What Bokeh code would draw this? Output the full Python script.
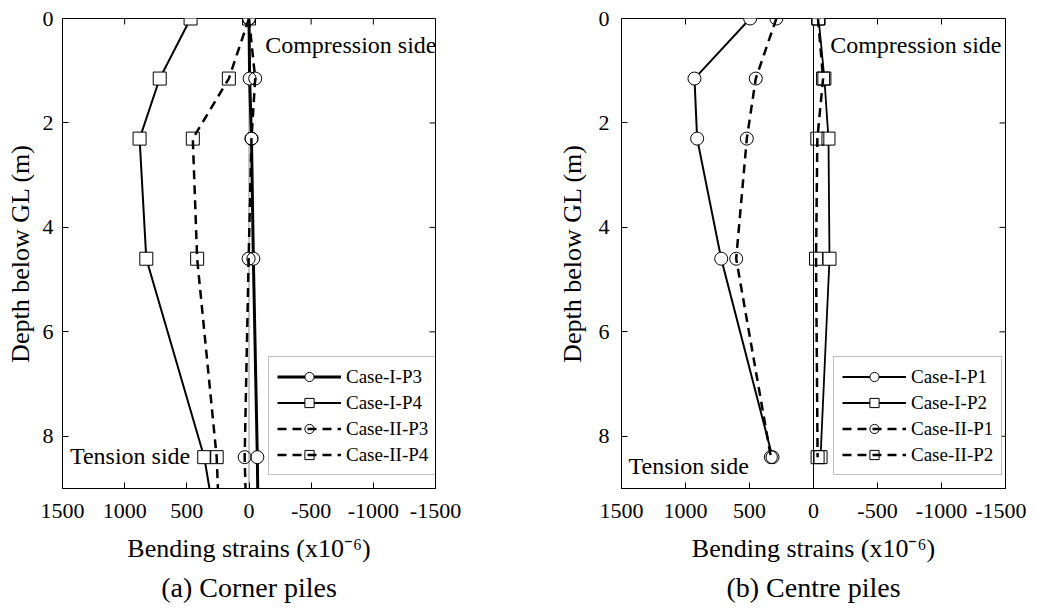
from bokeh.plotting import figure
from bokeh.models import Range1d, FixedTicker, Legend, LegendItem, Label, Span
from bokeh.layouts import row
from bokeh.embed import file_html
from bokeh.resources import INLINE

FONT = "Liberation Serif"

# ---------------- data ----------------
depth = [0, 1.15, 2.3, 4.6, 8.4]
depth_line_left = [0, 1.15, 2.3, 4.6, 8.4, 9.0]

# (a) Corner piles  -- bending strains (x10^-6)
corner_I_P3 = [0, -5, -20, -35, -67]
corner_I_P4 = [470, 718, 880, 826, 360]
corner_II_P3 = [0, -50, -20, 3, 35]
corner_II_P4 = [0, 162, 452, 417, 260]
# values of the fitted lines at the bottom of the pile (9 m)
corner_I_P3_bottom = -70
corner_I_P4_bottom = 318
corner_II_P3_bottom = 28
corner_II_P4_bottom = 250

# (b) Centre piles
centre_I_P1 = [495, 930, 909, 721, 320]
centre_I_P2 = [-40, -85, -117, -125, -55]
centre_II_P1 = [290, 451, 521, 604, 333]
centre_II_P2 = [-35, -75, -30, -20, -32]

x_ticks = [1500, 1000, 500, 0, -500, -1000, -1500]
x_tick_labels = ["1500", "1000", "500", "0", "-500", "-1000", "-1500"]
y_ticks = [0, 2, 4, 6, 8]
y_tick_labels = ["0", "2", "4", "6", "8"]

X_MIN, X_MAX = 1500, -1500
Y_TOP, Y_BOT = 0, 9
TICK_PX = 6
FRAME_H = 470
BORDER_TOP = 18


def style_axis(ax, ticks, labels):
    ax.ticker = FixedTicker(ticks=ticks)
    ax.major_label_overrides = {t: l for t, l in zip(ticks, labels)}
    ax.major_tick_in = TICK_PX
    ax.major_tick_out = 0
    ax.minor_tick_line_color = None
    ax.axis_line_color = "black"
    ax.axis_line_width = 1
    ax.major_tick_line_color = "black"
    ax.major_label_text_font = FONT
    ax.major_label_text_color = "black"
    ax.major_label_text_font_size = "22px"


def make_panel(caption, series, zero_color, frame_w, border_left, border_right,
               y_label_standoffs, legend_loc, comp_pos, tens_pos,
               line_depth=None, bottoms=None):
    p = figure(frame_width=frame_w, frame_height=FRAME_H,
               x_range=Range1d(X_MIN, X_MAX), y_range=Range1d(Y_BOT, Y_TOP),
               output_backend="svg", toolbar_location=None,
               title=caption, title_location="below",
               min_border_left=border_left, min_border_right=border_right,
               min_border_top=BORDER_TOP, min_border_bottom=0)
    p.title.align = "center"
    p.title.text_font = FONT
    p.title.text_font_size = "28px"
    p.title.text_font_style = "normal"
    p.title.text_color = "black"
    p.title.standoff = 8
    p.grid.visible = False
    p.outline_line_color = "black"
    p.outline_line_width = 1
    p.background_fill_color = "white"
    p.border_fill_color = "white"

    xa = p.xaxis[0]
    ya = p.yaxis[0]
    style_axis(xa, x_ticks, x_tick_labels)
    style_axis(ya, y_ticks, y_tick_labels)
    xa.major_label_standoff = 15
    ya.major_label_standoff = y_label_standoffs[0]
    xa.axis_label = "Bending strains (x10\u207b\u2076)"
    ya.axis_label = "Depth below GL (m)"
    for ax in (xa, ya):
        ax.axis_label_text_font = FONT
        ax.axis_label_text_font_size = "26px"
        ax.axis_label_text_font_style = "normal"
        ax.axis_label_text_color = "black"
    xa.axis_label_standoff = 13
    ya.axis_label_standoff = y_label_standoffs[1]

    # inward ticks on the top and right edges of the box
    dy = TICK_PX * (Y_BOT - Y_TOP) / FRAME_H
    dx = TICK_PX * (X_MIN - X_MAX) / frame_w
    p.segment(x0=x_ticks, x1=x_ticks, y0=[Y_TOP] * len(x_ticks),
              y1=[Y_TOP + dy] * len(x_ticks), line_color="black", line_width=1)
    p.segment(x0=[X_MAX] * len(y_ticks), x1=[X_MAX + dx] * len(y_ticks),
              y0=y_ticks, y1=y_ticks, line_color="black", line_width=1)

    p.add_layout(Span(location=0, dimension="height", line_color=zero_color,
                      line_width=1, level="underlay"))

    items = []
    for (name, vals, marker, dash, lw, fill) in series:
        if line_depth is not None:
            lx = vals + [bottoms[name]]
            ly = line_depth
        else:
            lx, ly = vals, depth
        lr = p.line(lx, ly, line_color="black", line_width=lw, line_dash=dash)
        sr = p.scatter(vals, depth, marker=marker, size=13, line_color="black",
                       line_width=1, fill_color=fill if fill else "white",
                       fill_alpha=1.0 if fill else 0.0)
        items.append(LegendItem(label=name, renderers=[lr, sr]))

    leg = Legend(items=items, location=legend_loc)
    leg.label_text_font = FONT
    leg.label_text_font_size = "19px"
    leg.label_text_color = "black"
    leg.glyph_width = 64
    leg.glyph_height = 23
    leg.label_height = 23
    leg.spacing = 3
    leg.padding = 8
    leg.margin = 0
    leg.label_standoff = 5
    leg.border_line_color = "#808080"
    leg.border_line_width = 1
    leg.background_fill_color = "white"
    leg.background_fill_alpha = 1.0
    p.add_layout(leg, "center")

    p.add_layout(Label(x=comp_pos[0], y=comp_pos[1], text="Compression side",
                       text_font=FONT, text_font_size="24px",
                       text_baseline="middle", text_align="left",
                       text_color="black"))
    p.add_layout(Label(x=tens_pos[0], y=tens_pos[1], text="Tension side",
                       text_font=FONT, text_font_size="24px",
                       text_baseline="middle", text_align="left",
                       text_color="black"))
    return p


left_series = [
    ("Case-I-P3", corner_I_P3, "circle", "solid", 3, "white"),
    ("Case-I-P4", corner_I_P4, "square", "solid", 2, "white"),
    ("Case-II-P3", corner_II_P3, "circle", "9 6", 2.5, None),
    ("Case-II-P4", corner_II_P4, "square", "9 6", 2.5, None),
]
left_bottoms = {
    "Case-I-P3": corner_I_P3_bottom,
    "Case-I-P4": corner_I_P4_bottom,
    "Case-II-P3": corner_II_P3_bottom,
    "Case-II-P4": corner_II_P4_bottom,
}
right_series = [
    ("Case-I-P1", centre_I_P1, "circle", "solid", 2, "white"),
    ("Case-I-P2", centre_I_P2, "square", "solid", 1.8, "white"),
    ("Case-II-P1", centre_II_P1, "circle", "9 6", 2.5, None),
    ("Case-II-P2", centre_II_P2, "square", "9 6", 2.5, None),
]

p1 = make_panel("(a) Corner piles", left_series, "#8c8c8c", 373, 62, 119,
                (9, 5), (206, 13), (-130, 0.5), (1440, 8.38),
                line_depth=depth_line_left, bottoms=left_bottoms)
p2 = make_panel("(b) Centre piles", right_series, "black", 384, 62, 21,
                (12, 9), (212, 13), (-130, 0.5), (1445, 8.56))

layout = row(p1, p2)
open("out.html", "w").write(file_html(layout, INLINE))
